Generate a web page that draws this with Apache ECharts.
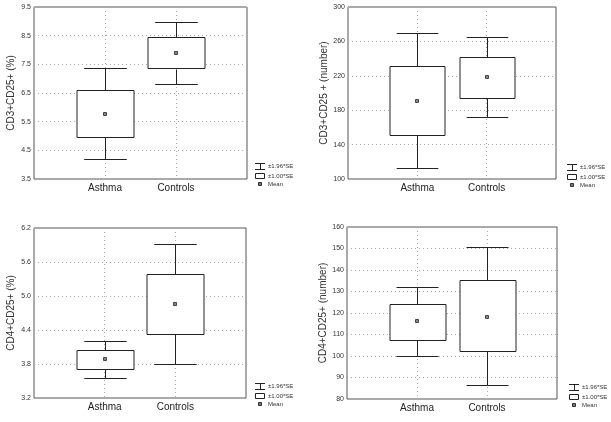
<!DOCTYPE html>
<html>
<head>
<meta charset="utf-8">
<script src="https://cdn.jsdelivr.net/npm/echarts@6/dist/echarts.min.js"></script>
<style>
  html, body { margin: 0; padding: 0; background: #fff; }
  #chart { width: 611px; height: 422px; }
</style>
</head>
<body>
<div id="chart"></div>
<script>
// categories (blank ends keep the groups at 1/3 and 2/3 of the x range)
const groups = ['', 'Asthma', 'Controls', ''];

// per group: [mean-1.96SE, mean-1SE, mean+1SE, mean+1.96SE, mean]
const cd3Pct = [[4.19, 4.99, 6.62, 7.38, 5.78], [6.81, 7.35, 8.44, 8.97, 7.90]];
const cd3Num = [[112.4, 150.9, 231.3, 269.7, 190.9], [171.8, 194.0, 241.7, 265.0, 218.4]];
const cd4Pct = [[3.55, 3.71, 4.05, 4.21, 3.89], [3.80, 4.33, 5.39, 5.92, 4.86]];
const cd4Num = [[100.2, 107.5, 124.2, 132.0, 116.1], [86.7, 102.2, 135.2, 150.8, 118.3]];

// y tick labels
const cd3PctTicks = [3.5, 4.5, 5.5, 6.5, 7.5, 8.5, 9.5];
const cd3NumTicks = [100, 140, 180, 220, 260, 300];
const cd4PctTicks = [3.2, 3.8, 4.4, 5.0, 5.6, 6.2];
const cd4NumTicks = [80, 90, 100, 110, 120, 130, 140, 150, 160];

const yNames = ['CD3+CD25+ (%)', 'CD3+CD25 + (number)', 'CD4+CD25+ (%)', 'CD4+CD25+ (number)'];
const legendText = ['±1.96*SE', '±1.00*SE', 'Mean'];

const panels = [
  { data: cd3Pct, ticks: cd3PctTicks, dec: 1, grid: { left: 34, top: 7, width: 213, height: 172 }, leg: [255, 163] },
  { data: cd3Num, ticks: cd3NumTicks, dec: 0, grid: { left: 348, top: 7, width: 208, height: 172 }, leg: [567, 164] },
  { data: cd4Pct, ticks: cd4PctTicks, dec: 1, grid: { left: 34, top: 228, width: 212, height: 170 }, leg: [255, 383] },
  { data: cd4Num, ticks: cd4NumTicks, dec: 0, grid: { left: 347, top: 227, width: 210, height: 172 }, leg: [569, 384] }
];

const font = 'Liberation Sans, Arial, sans-serif';
const ink = '#222';
const gridLine = { show: true, lineStyle: { color: '#aaa', type: [1, 3] } };

function renderBox(params, api) {
  const x = api.value(0);
  const band = api.size([1, 0])[0];
  const boxW = band * 0.8;
  const capW = band * 0.6;
  const wLo = api.coord([x, api.value(1)]);
  const bLo = api.coord([x, api.value(2)]);
  const bHi = api.coord([x, api.value(3)]);
  const wHi = api.coord([x, api.value(4)]);
  const m = api.coord([x, api.value(5)]);
  const cx = Math.round(wLo[0]) + 0.5;
  const line = (x1, y1, x2, y2) => ({
    type: 'line',
    shape: { x1: x1, y1: Math.round(y1) + 0.5, x2: x2, y2: Math.round(y2) + 0.5 },
    style: { stroke: ink, lineWidth: 1 }
  });
  return {
    type: 'group',
    children: [
      line(cx, wHi[1], cx, bHi[1]),
      line(cx, bLo[1], cx, wLo[1]),
      line(cx - capW / 2, wHi[1], cx + capW / 2, wHi[1]),
      line(cx - capW / 2, wLo[1], cx + capW / 2, wLo[1]),
      {
        type: 'rect',
        shape: { x: Math.round(cx - boxW / 2), y: Math.round(bHi[1]) + 0.5, width: Math.round(boxW), height: Math.round(bLo[1] - bHi[1]) },
        style: { fill: '#fff', stroke: ink, lineWidth: 1 }
      },
      {
        type: 'rect',
        shape: { x: cx - 2, y: Math.round(m[1]) - 1.5, width: 3, height: 3 },
        style: { fill: '#888', stroke: '#444', lineWidth: 1 }
      }
    ]
  };
}

function legendGraphic(x, y) {
  const s = { stroke: ink, lineWidth: 1 };
  const t = (ty, text) => ({
    type: 'text', x: x + 13, y: ty,
    style: { text: text, fontSize: 6, fontFamily: font, fill: '#333', verticalAlign: 'middle' }
  });
  return {
    type: 'group',
    children: [
      { type: 'line', shape: { x1: x, y1: y + 0.5, x2: x + 10, y2: y + 0.5 }, style: s },
      { type: 'line', shape: { x1: x + 5.5, y1: y, x2: x + 5.5, y2: y + 6 }, style: s },
      { type: 'line', shape: { x1: x, y1: y + 6.5, x2: x + 10, y2: y + 6.5 }, style: s },
      t(y + 3.5, legendText[0]),
      { type: 'rect', shape: { x: x + 0.5, y: y + 10.5, width: 9, height: 5 }, style: { fill: '#fff', stroke: ink, lineWidth: 1 } },
      t(y + 13, legendText[1]),
      { type: 'rect', shape: { x: x + 3.5, y: y + 19.5, width: 3, height: 3 }, style: { fill: '#777', stroke: '#333', lineWidth: 1 } },
      t(y + 21, legendText[2])
    ]
  };
}

const chart = echarts.init(document.getElementById('chart'));

chart.setOption({
  backgroundColor: '#fff',
  animation: false,
  grid: panels.map(p => Object.assign({ show: true, borderColor: '#555', borderWidth: 1, backgroundColor: 'transparent' }, p.grid)),
  xAxis: panels.map((p, i) => ({
    type: 'category',
    gridIndex: i,
    data: groups,
    boundaryGap: false,
    axisLine: { show: false },
    axisTick: { show: false },
    axisLabel: { interval: 0, margin: 4, fontSize: 10, fontFamily: font, color: '#222' },
    splitLine: gridLine
  })),
  yAxis: panels.map((p, i) => ({
    type: 'value',
    gridIndex: i,
    min: p.ticks[0],
    max: p.ticks[p.ticks.length - 1],
    name: yNames[i],
    nameLocation: 'middle',
    nameGap: 18,
    nameTextStyle: { fontSize: 10, fontFamily: font, color: '#333' },
    axisLine: { show: false },
    axisTick: { show: false, customValues: p.ticks },
    axisLabel: {
      customValues: p.ticks, fontSize: 7, margin: 3, fontFamily: font, color: '#333',
      formatter: v => v.toFixed(p.dec)
    },
    splitLine: gridLine
  })),
  series: panels.map((p, i) => ({
    type: 'custom',
    xAxisIndex: i,
    yAxisIndex: i,
    renderItem: renderBox,
    encode: { x: 0, y: [1, 2, 3, 4, 5] },
    data: p.data.map((row, g) => [g + 1].concat(row)),
    z: 5
  })),
  graphic: panels.map(p => legendGraphic(p.leg[0], p.leg[1]))
});
</script>
</body>
</html>
